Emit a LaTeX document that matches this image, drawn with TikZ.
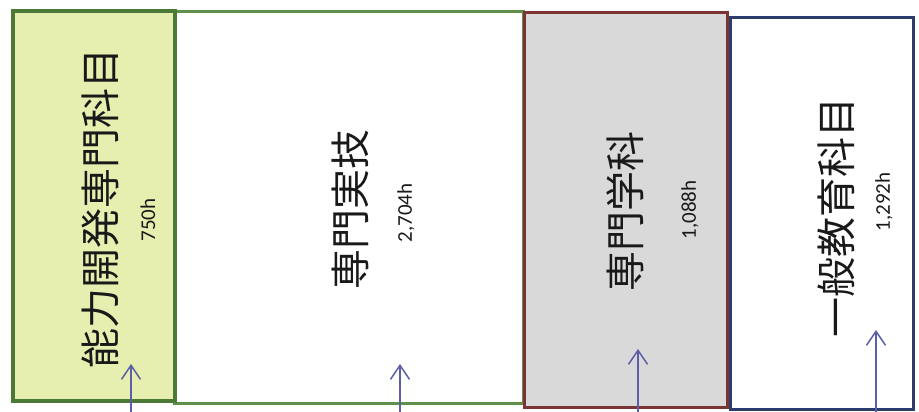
\documentclass[tikz,border=0pt]{standalone}
\usepackage{fontspec}
\newfontfamily\jpfont{Noto Sans CJK JP}
\newfontfamily\numfont{Carlito}
\usetikzlibrary{arrows.meta}

\definecolor{abilityfill}{HTML}{E6EEB0}
\definecolor{abilityline}{HTML}{4C7A36}
\definecolor{practiceline}{HTML}{5E9048}
\definecolor{subjectfill}{HTML}{D9D9D9}
\definecolor{subjectline}{HTML}{7A3434}
\definecolor{generalline}{HTML}{2C3C6C}
\definecolor{arrowblue}{HTML}{5C5FA6}

\begin{document}
\begin{tikzpicture}[x=1pt,y=-1pt,
        title/.style={font=\jpfont\fontsize{40}{40}\selectfont,text=black!90,rotate=90,inner sep=0pt},
        hours/.style={font=\numfont\fontsize{21}{21}\selectfont,text=black!90,rotate=90,inner sep=0pt},
        pointer/.style={draw=arrowblue,line width=1.5pt,-{Straight Barb[length=14pt,width=19pt,line width=1.5pt]}}
    ]

    \useasboundingbox[fill=white] (0,0) rectangle (919,412);

    % panels
    \draw[practiceline,line width=3pt] (174,12) rectangle (523,403);
    \draw[abilityline,fill=abilityfill,line width=4.5pt] (13,11) rectangle (175,401);
    \draw[subjectline,fill=subjectfill,line width=3pt] (524,13) rectangle (727,407);
    \draw[generalline,line width=3pt] (730,18) rectangle (913,409);

    \node[title] (ability) at (100,208) {能力開発専門科目};
    \node[hours] (abilityh) at (148,220) {750h};

    \node[title] (practice) at (350,209) {専門実技};
    \node[hours] (practiceh) at (406,213) {2,704h};

    \node[title] (subject) at (625,211) {専門学科};
    \node[hours] (subjecth) at (690,210) {1,088h};

    \node[title] (general) at (836,217) {一般教育科目};
    \node[hours] (generalh) at (884,202) {1,292h};

    % arrows from below
    \coordinate (s1) at (131,414);
    \coordinate (t1) at (131,364);
    \coordinate (s2) at (400,414);
    \coordinate (t2) at (400,364);
    \coordinate (s3) at (638,414);
    \coordinate (t3) at (638,349);
    \coordinate (s4) at (876,414);
    \coordinate (t4) at (876,330);

    \draw[pointer] (s1) -- (t1);
    \draw[pointer] (s2) -- (t2);
    \draw[pointer] (s3) -- (t3);
    \draw[pointer] (s4) -- (t4);

\end{tikzpicture}
\end{document}
